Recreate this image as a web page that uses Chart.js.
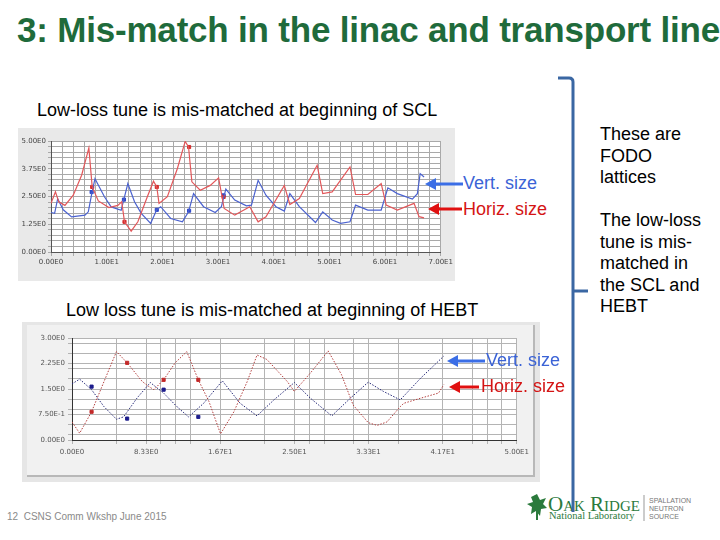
<!DOCTYPE html>
<html>
<head>
<meta charset="utf-8">
<script src="https://cdn.jsdelivr.net/npm/chart.js@4.4.1/dist/chart.umd.min.js"></script>
<style>
body{margin:0;background:#fff;font-family:"Liberation Sans",Arial,sans-serif}
#slide{position:relative;width:720px;height:540px;overflow:hidden;background:#fff}
.t{position:absolute;white-space:nowrap;line-height:1}
#title{left:17px;top:12px;font-family:"Liberation Sans",Arial,sans-serif;font-weight:bold;font-size:35px;color:#1f6b3b;letter-spacing:-0.2px}
.txt{font-size:18px;color:#000}
.side{position:absolute;left:600px;top:124px;font-size:18px;line-height:21.5px;color:#000}
#panel1{position:absolute;left:18px;top:128px;width:437px;height:153px;background:#e9e9e9}
#panel2{position:absolute;left:22px;top:322px;width:518px;height:160px;background:#e6e6e6}
#panel2in{position:absolute;left:27px;top:325px;width:506px;height:150px;background:#f1f1f1;border-right:2px solid #b8b8b8;border-bottom:2px solid #b8b8b8}
canvas{position:absolute}
#c1{left:18px;top:128px}
#c2{left:27px;top:325px}
svg{position:absolute;left:0;top:0}
</style>
</head>
<body>
<div id="slide">
<div class="t" id="title">3: Mis-match in the linac and transport line</div>
<div class="t txt" style="left:37px;top:101px">Low-loss tune is mis-matched at beginning of SCL</div>
<div class="t txt" style="left:66px;top:301px">Low loss tune is mis-matched at beginning of HEBT</div>
<div id="panel1"></div>
<div id="panel2"></div>
<div id="panel2in"></div>
<canvas id="c1" width="437" height="153"></canvas>
<canvas id="c2" width="506" height="150"></canvas>
<div class="t txt" style="left:463px;top:174px;color:#3b63d6">Vert. size</div>
<div class="t txt" style="left:463px;top:200px;color:#d41414">Horiz. size</div>
<div class="t txt" style="left:486px;top:351px;color:#3b63d6">Vert. size</div>
<div class="t txt" style="left:481px;top:377px;color:#d41414">Horiz. size</div>
<div class="side">These are<br>FODO<br>lattices</div>
<div class="side" style="top:210px">The low-loss<br>tune is mis-<br>matched in<br>the SCL and<br>HEBT</div>
<div class="t" style="left:7px;top:512px;font-size:10px;color:#8a8a8a">12&nbsp;&nbsp;CSNS Comm Wkshp June 2015</div>
<div class="t" style="left:548px;top:494px;font-family:'Liberation Serif',serif;font-size:21px;color:#2b7a3c;font-variant:small-caps">Oak Ridge</div>
<div class="t" style="left:549px;top:511px;font-family:'Liberation Serif',serif;font-size:10.5px;color:#2b7a3c">National Laboratory</div>
<div class="t" style="left:649px;top:497px;font-size:7px;line-height:8px;color:#777">SPALLATION<br>NEUTRON<br>SOURCE</div>
<svg width="720" height="540">
  <g fill="none" stroke="#3a67a3" stroke-width="3">
    <path d="M558 78 L569 78 Q573 78 573 82 L573 512"/>
    <path d="M573 291 L588 291"/>
  </g>
  <g stroke-width="3">
    <line x1="463" y1="184" x2="434" y2="184" stroke="#3b6ee6"/>
    <polygon points="425,184 436,178 436,190" fill="#3b6ee6"/>
    <line x1="462" y1="209" x2="437" y2="209" stroke="#e01010"/>
    <polygon points="428,209 439,203 439,215" fill="#e01010"/>
    <line x1="485" y1="361" x2="456" y2="361" stroke="#3b6ee6"/>
    <polygon points="447,361 458,355 458,367" fill="#3b6ee6"/>
    <line x1="479" y1="387" x2="458" y2="387" stroke="#e01010"/>
    <polygon points="449,387 460,381 460,393" fill="#e01010"/>
  </g>
  <line x1="644" y1="495" x2="644" y2="521" stroke="#999" stroke-width="1"/>
  <g fill="#2b7a3c">
    <polygon points="537,494 540,500 546,498 543,504 547,508 541,509 540,516 536,511 531,514 532,507 527,504 533,502 531,497"/>
    <rect x="536" y="510" width="2" height="10"/>
  </g>
</svg>
</div>
<script>
// ===== SCL (top chart) =====
const topHorizS=[0,0.8,1.4,2.5,4,5.5,6.8,7.4,8.5,10.4,12,12.7,13.2,14.4,15.6,17.3,18.4,19,19.4,20.9,22.7,24.1,24.7,25.3,26.8,28.6,30.1,31.1,33,35.7,37.2,38.6,41.9,42.9,44.6,47.8,48.8,50.5,53.7,54.7,56.9,59.3,60.2,62.2,65.2,66.1,67]
const topHorizV=[2.19,2.71,2.26,2.1,2.56,3.46,4.69,2.93,2.3,2.0,2.1,2.26,1.36,0.94,1.36,2.49,3.19,2.93,2.19,2.49,3.76,4.98,4.73,3.16,2.78,3.0,3.34,1.96,1.66,2.04,1.36,1.59,3.0,2.14,2.41,3.91,2.63,2.71,3.83,2.59,2.59,3.08,2.11,1.89,2.19,1.59,1.54]
const topVertS=[0,0.65,1.2,2.2,3.7,6.1,6.7,7.4,7.9,9.6,10.8,12.6,13.1,13.8,15,16.2,17.9,19,19.7,21.5,23.6,24.7,25.6,27.4,29.5,30.6,31.4,33,35.1,36,37.2,38.6,40.4,41.9,42.9,44.6,47.5,48.8,50.5,52,53.7,54.7,56.9,59.3,60.5,62.2,64.9,65.8,66.3,67]
const topVertV=[1.78,1.74,2.4,1.9,1.58,1.66,1.81,2.73,3.3,2.49,2.03,1.88,2.38,3.08,2.26,1.74,1.29,1.91,2.04,1.51,1.36,1.81,2.63,2.04,1.78,2.04,2.83,2.34,2.08,2.11,3.23,2.56,2.04,1.84,2.63,2.04,1.33,1.81,1.44,1.29,1.36,2.11,1.89,1.89,2.89,2.63,2.38,2.63,3.53,3.38]
const topHorizDotS=[7.4,13.2,19.0,24.8,31.0]
const topHorizDotV=[2.93,1.36,2.93,4.73,2.48]
const topVertDotS=[7.3,13.1,19.0,24.8,31.0]
const topVertDotV=[2.7,2.36,1.9,1.86,2.55]
const topXLabels=[0,10,20,30,40,50,60,70]
const topYLabels=[0,1.25,2.5,3.75,5]

// ===== HEBT (bottom chart) =====
const botHorizS=[0,0.86,2.2,3.6,5.0,6.2,7.9,8.6,9.2,10.3,11.6,12.9,14.2,15.4,16.7,18.2,19.7,20.8,21.9,24.2,25,26.8,28.8,30.3,31.6,33.3,34.3,35.4,36.9,37.3,39.2,41.2,41.8]
const botHorizV=[0.53,0.2,0.83,1.72,2.6,2.27,1.72,1.58,1.48,1.77,2.27,2.6,1.77,1.13,0.18,0.83,1.72,2.5,2.37,1.72,1.43,1.97,2.62,1.92,1.03,0.51,0.43,0.53,0.98,1.08,1.23,1.38,1.63]
const botVertS=[0,0.86,2.2,3.6,5,5.8,7.3,8.8,10.3,11.8,13.1,14.8,16.9,18.9,20.8,22.7,25,26.8,29.2,31.3,33.3,35,36.9,39.2,41.8]
const botVertV=[1.65,1.79,1.48,0.98,0.61,0.68,1.23,1.69,1.38,0.98,0.68,1.08,1.74,1.08,0.71,1.18,1.69,1.23,0.71,1.23,1.7,1.43,1.18,1.82,2.47]
const botHorizDotS=[2.2,6.2,10.3,14.2]
const botHorizDotV=[0.83,2.27,1.77,1.77]
const botVertDotS=[2.2,6.2,10.3,14.2]
const botVertDotV=[1.57,0.63,1.48,0.68]
const botXLabels=[0,25/3,50/3,25,100/3,125/3,50]
const botYLabels=[0,0.75,1.5,2.25,3]
const botXGrid=[0,5,25/3,10,35/3,40/3,50/3,65/3,25,80/3,85/3,95/3,100/3,110/3,125/3,45,140/3,145/3,50]
const botYGrid=[0,0.15,0.45,0.75,0.9,1.2,1.5,1.8,2.1,2.25,2.55,2.85,3]

function pts(xs,ys){ return xs.map((x,i)=>({x:x,y:ys[i]})) }

function sci(v){
    if(Math.abs(v)<1e-9) return '0.00E0'
    let e=Math.floor(Math.log10(Math.abs(v))+1e-9)
    let m=v/Math.pow(10,e)
    return m.toFixed(2)+'E'+e
}
function isLabel(v,arr){ return arr.some(a=>Math.abs(a-v)<1e-3) }

// white plot area on the grey panel
const areaBg={
    id:'areaBg',
    beforeDraw(chart){
        let {ctx,chartArea:a}=chart
        ctx.save()
        ctx.fillStyle='#fff'
        ctx.fillRect(a.left,a.top,a.width,a.height)
        ctx.restore()
    }
}

const tickFont={family:'"DejaVu Sans",sans-serif',size:7}

function lineSet(data,color,dash,width){
    return {data:data,borderColor:color,borderWidth:width,borderDash:dash,pointRadius:0,tension:0,fill:false}
}
function dotSet(data,color){
    return {data:data,showLine:false,pointStyle:'rect',pointRadius:2.2,pointBackgroundColor:color,pointBorderColor:color,borderColor:color}
}

let topChart=new Chart(document.getElementById('c1').getContext('2d'),{
    type:'line',
    data:{datasets:[
        lineSet(pts(topHorizS,topHorizV),'#e2575a',[],1.2),
        lineSet(pts(topVertS,topVertV),'#4b62cf',[],1.2),
        dotSet(pts(topHorizDotS,topHorizDotV),'#d42a2a'),
        dotSet(pts(topVertDotS,topVertDotV),'#2c46c8')
    ]},
    options:{
        responsive:false,animation:false,
        layout:{padding:{left:0,right:10,top:13,bottom:11}},
        plugins:{legend:{display:false},tooltip:{enabled:false}},
        scales:{
            x:{type:'linear',min:0,max:70,
                afterFit(s){s.height=18},
                ticks:{stepSize:2,autoSkip:false,maxRotation:0,padding:2,color:'#444',font:tickFont,
                    callback:v=>isLabel(v,topXLabels)?sci(v):''},
                grid:{color:'#a9a9a9',tickLength:4},
                border:{color:'#555'}},
            y:{type:'linear',min:0,max:5,
                afterFit(s){s.width=33},
                ticks:{stepSize:0.25,autoSkip:false,padding:2,color:'#444',font:tickFont,
                    callback:v=>isLabel(v,topYLabels)?sci(v):''},
                grid:{color:'#a9a9a9',tickLength:3},
                border:{color:'#555'}}
        }
    },
    plugins:[areaBg]
})

let botChart=new Chart(document.getElementById('c2').getContext('2d'),{
    type:'line',
    data:{datasets:[
        lineSet(pts(botHorizS,botHorizV),'#b3403f',[1.5,1.5],1),
        lineSet(pts(botVertS,botVertV),'#262a78',[1.5,1.5],1),
        dotSet(pts(botHorizDotS,botHorizDotV),'#c42626'),
        dotSet(pts(botVertDotS,botVertDotV),'#1c1c8c')
    ]},
    options:{
        responsive:false,animation:false,
        layout:{padding:{left:0,right:15,top:13,bottom:14}},
        plugins:{legend:{display:false},tooltip:{enabled:false}},
        scales:{
            x:{type:'linear',min:0,max:50,
                afterFit(s){s.height=21},
                afterBuildTicks(ax){ax.ticks=botXGrid.map(v=>({value:v}))},
                ticks:{autoSkip:false,maxRotation:0,padding:4,color:'#555',font:tickFont,
                    callback:v=>isLabel(v,botXLabels)?sci(v):''},
                grid:{color:'#b4b4b4',tickLength:4},
                border:{color:'#333'}},
            y:{type:'linear',min:0,max:3,
                afterFit(s){s.width=45},
                afterBuildTicks(ax){ax.ticks=botYGrid.map(v=>({value:v}))},
                ticks:{autoSkip:false,padding:3,color:'#555',font:tickFont,
                    callback:v=>isLabel(v,botYLabels)?sci(v):''},
                grid:{color:'#b4b4b4',tickLength:4},
                border:{color:'#333'}}
        }
    },
    plugins:[areaBg]
})
</script>
</body>
</html>
